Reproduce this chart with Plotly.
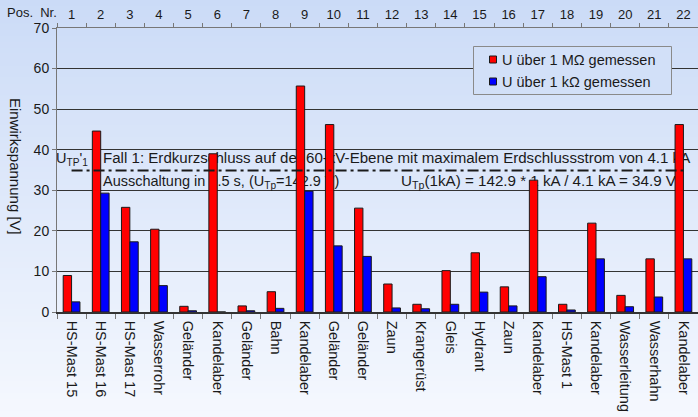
import plotly.graph_objects as go

# ---------------- data ----------------
pos_nr = list(range(1, 23))
objects = ["HS-Mast 15", "HS-Mast 16", "HS-Mast 17", "Wasserrohr", "Geländer",
           "Kandelaber", "Geländer", "Bahn", "Kandelaber", "Geländer", "Geländer",
           "Zaun", "Krangerüst", "Gleis", "Hydrant", "Zaun", "Kandelaber",
           "HS-Mast 1", "Kandelaber", "Wasserleitung", "Wasserhahn", "Kandelaber"]
u_1mohm = [9.0, 44.6, 25.8, 20.4, 1.4, 39.0, 1.5, 5.0, 55.7, 46.2, 25.6,
           6.9, 1.9, 10.2, 14.6, 6.2, 32.5, 1.9, 21.9, 4.1, 13.1, 46.2]
u_1kohm = [2.5, 29.3, 17.3, 6.5, 0.3, 0.0, 0.3, 0.9, 29.8, 16.3, 13.7,
           1.0, 0.8, 1.9, 4.9, 1.5, 8.7, 0.5, 13.1, 1.3, 3.7, 13.1]
u_tp_1 = 34.9
y_ticks = [0, 10, 20, 30, 40, 50, 60, 70]

name_red = "U über 1 MΩ gemessen"
name_blue = "U über 1 kΩ gemessen"
txt_utp = "U<sub>TP</sub>'<sub>1</sub>"
txt_fall = "Fall 1: Erdkurzschluss auf der 60-kV-Ebene mit maximalem Erdschlussstrom von 4.1 kA"
txt_aus = "Ausschaltung in 0.5 s, (U<sub>Tp</sub>=142.9 V)"
txt_calc = "U<sub>Tp</sub>(1kA) = 142.9 * 1 kA / 4.1 kA = 34.9 V"

COL_RED = "#ff0000"
COL_BLUE = "#0000ff"

# ---------------- layout geometry ----------------
W, H = 698, 417
ML, MR, MT, MB = 57, 0, 28, 105
PW, PH = W - ML - MR, H - MT - MB
FONT = "Liberation Sans, Arial, sans-serif"
TXT = "#1a1a1a"


def px2data_x(px):
    return 0.5 + (px - ML) / PW * 22


def px2paper(px):
    return (px - ML) / PW


def py2paper(py):
    return (H - MB - py) / PH


fig = go.Figure()

# text lying behind the bars (main subplot, drawn first)
fig.add_trace(go.Scatter(
    x=[px2data_x(56), px2data_x(103), px2data_x(103), px2data_x(676)],
    y=[37.6, 37.6, 32.0, 32.0],
    mode="text",
    text=[txt_utp, txt_fall, txt_aus, txt_calc],
    textposition=["middle right", "middle right", "middle right", "middle left"],
    textfont=dict(family=FONT, size=[14.5, 15.1, 14.5, 15.2], color=TXT),
    showlegend=False, hoverinfo="skip", xaxis="x", yaxis="y"))

# bars on overlay subplot (drawn above text)
fig.add_trace(go.Bar(
    name=name_red, x=pos_nr, y=u_1mohm, xaxis="x", yaxis="y2",
    marker=dict(color=COL_RED, line=dict(color="#1a1a1a", width=1)),
    hoverinfo="skip", showlegend=False))
fig.add_trace(go.Bar(
    name=name_blue, x=pos_nr, y=u_1kohm, xaxis="x", yaxis="y2",
    marker=dict(color=COL_BLUE, line=dict(color="#1a1a1a", width=1)),
    hoverinfo="skip", showlegend=False))

# dash-dot limit line
fig.add_trace(go.Scatter(
    x=[pos_nr[0], pos_nr[-1]], y=[u_tp_1, u_tp_1], mode="lines",
    line=dict(color="#1a1a1a", width=2, dash="11px,4px,3px,4px"),
    xaxis="x", yaxis="y2", showlegend=False, hoverinfo="skip"))

# invisible trace so that the top (Pos. Nr.) axis is drawn
fig.add_trace(go.Scatter(
    x=pos_nr, y=[None] * len(pos_nr), mode="markers", xaxis="x2", yaxis="y",
    showlegend=False, hoverinfo="skip"))

# gradient background
shapes = []
N = 70
c0 = (203, 219, 247)
c1 = (245, 248, 254)
for i in range(N):
    t = (i + 0.5) / N
    col = tuple(round(c0[k] + (c1[k] - c0[k]) * t) for k in range(3))
    py_top = H * i / N
    py_bot = H * (i + 1) / N + 1
    shapes.append(dict(
        type="rect", xref="paper", yref="paper",
        x0=-0.1, x1=1.02, y0=py2paper(py_bot), y1=py2paper(py_top),
        fillcolor="rgb(%d,%d,%d)" % col, line=dict(width=0), layer="below"))

# legend box (drawn as shapes + text)
shapes.append(dict(
    type="rect", xref="paper", yref="paper",
    x0=px2paper(473.5), x1=px2paper(671.5), y0=py2paper(94.5), y1=py2paper(46.5),
    fillcolor="rgb(210,224,248)", line=dict(color="#8a8a8a", width=1), layer="above"))
legend_items = [(name_red, COL_RED, 59.5), (name_blue, COL_BLUE, 81.5)]
annotations = []
for name, col, yc in legend_items:
    shapes.append(dict(
        type="rect", xref="paper", yref="paper",
        x0=px2paper(489.5), x1=px2paper(496.5), y0=py2paper(yc + 3.5), y1=py2paper(yc - 3.5),
        fillcolor=col, line=dict(color="#1a1a1a", width=1), layer="above"))
    annotations.append(dict(
        text=name, xref="paper", yref="paper", x=px2paper(499.5), y=py2paper(yc),
        xanchor="left", yanchor="middle", showarrow=False,
        font=dict(family=FONT, size=14.5, color=TXT)))

annotations += [
    dict(text="Pos.  Nr.", xref="paper", yref="paper",
         x=px2paper(5), y=py2paper(12), xanchor="left", yanchor="middle",
         showarrow=False, font=dict(family=FONT, size=13, color=TXT)),
    dict(text="Einwirkspannung [V]", xref="paper", yref="paper",
         x=px2paper(16), y=py2paper(166), xanchor="center", yanchor="middle",
         textangle=90, showarrow=False,
         font=dict(family=FONT, size=15, color=TXT)),
]

boundaries = [p - 0.5 for p in pos_nr] + [pos_nr[-1] + 0.5]

fig.update_layout(
    width=W, height=H,
    margin=dict(l=ML, r=MR, t=MT, b=MB, autoexpand=False),
    paper_bgcolor="rgb(236,242,252)",
    plot_bgcolor="rgba(0,0,0,0)",
    font=dict(family=FONT, color=TXT),
    barmode="group", bargap=0.425, bargroupgap=0,
    shapes=shapes,
    annotations=annotations,
    showlegend=False,
    xaxis=dict(
        range=[0.5, 22.5], tickmode="array", tickvals=pos_nr, ticktext=objects,
        tickangle=90, ticks="", showline=True, linecolor="#333", linewidth=1.5,
        showgrid=False, zeroline=False, ticklabelstandoff=4,
        tickfont=dict(family=FONT, size=14.5, color=TXT),
        minor=dict(tickmode="array", tickvals=boundaries, ticks="outside",
                   ticklen=5, tickcolor="#777", showgrid=False)),
    xaxis2=dict(
        overlaying="x", side="top", anchor="y", matches="x",
        range=[0.5, 22.5], tickmode="array", tickvals=pos_nr,
        ticktext=[str(p) for p in pos_nr], ticks="", ticklabelstandoff=3,
        showline=True, linecolor="#777", linewidth=1, showgrid=False,
        zeroline=False, tickfont=dict(family=FONT, size=13, color=TXT),
        minor=dict(tickmode="array", tickvals=boundaries, ticks="outside",
                   ticklen=4, tickcolor="#777", showgrid=False)),
    yaxis=dict(
        range=[0, 70], tickmode="array", tickvals=y_ticks,
        showgrid=True, gridcolor="#333", gridwidth=1,
        ticks="outside", ticklen=4, tickcolor="#777",
        showline=True, linecolor="#777", linewidth=1, zeroline=False,
        tickfont=dict(family=FONT, size=14, color=TXT)),
    yaxis2=dict(overlaying="y", matches="y", range=[0, 70], visible=False),
)

fig.write_html(
    "out.html",
    config={"displayModeBar": False},
    post_script="document.body.style.margin='0';document.body.style.padding='0';")
